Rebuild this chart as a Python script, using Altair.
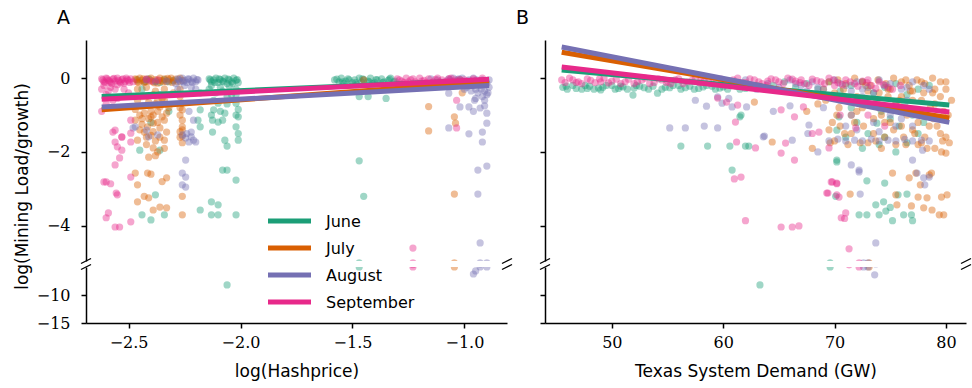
import altair as alt
import pandas as pd

months = ["June", "July", "August", "September"]
colors = ["#1b9e77", "#d95f02", "#7570b3", "#e7298a"]

# ---------------- Panel A: log(Hashprice) vs log(Mining Load/growth) ----------------
a_june = [
    (-2.46, -0.05), (-2.43, -0.1), (-2.41, -0.02), (-2.38, -0.08), (-2.36, -0.12), (-2.34, -0.04),
    (-2.32, -0.1), (-2.30, -0.06), (-2.44, -0.3), (-2.36, -0.45), (-2.32, -0.9), (-2.40, -1.2),
    (-2.14, -0.02), (-2.13, -0.1), (-2.12, -0.05), (-2.11, 0.0), (-2.10, -0.12), (-2.09, -0.04),
    (-2.08, -0.08), (-2.07, 0.0), (-2.06, -0.15), (-2.05, -0.05), (-2.04, -0.1), (-2.03, 0.0),
    (-2.02, -0.06), (-2.01, -0.12), (-2.13, -0.2), (-2.09, -0.25), (-2.05, -0.22), (-2.02, -0.3),
    (-2.135, -0.05), (-2.115, -0.12), (-2.095, -0.02), (-2.075, -0.1), (-2.055, -0.03), (-2.035, -0.14),
    (-2.015, -0.04), (-2.14, -0.3), (-2.11, -0.4), (-2.08, -0.35), (-2.04, -0.45), (-2.12, -0.6),
    (-2.06, -0.7), (-2.02, -1.0), (-2.01, -1.5), (-2.13, -1.0), (-2.09, -0.9),
    (-2.18, -0.4), (-2.18, -0.86), (-2.19, -1.14), (-2.18, -1.32), (-2.12, -0.86), (-2.10, -0.68),
    (-2.10, -1.19), (-2.125, -1.14), (-2.125, -1.46), (-2.07, -0.95), (-2.08, -1.14), (-2.07, -1.68),
    (-2.06, -1.84), (-2.01, -1.68), (-2.02, -1.32), (-2.01, -1.05), (-2.02, -0.68), (-2.02, -0.45),
    (-2.01, -0.85), (-2.06, -0.5),
    (-2.45, -1.95), (-2.36, -1.95), (-2.08, -2.49), (-2.06, -2.49), (-2.02, -2.76), (-2.44, -3.7),
    (-2.40, -3.84), (-2.38, -3.16), (-2.34, -3.7), (-2.18, -3.57), (-2.13, -3.35), (-2.10, -3.43),
    (-2.13, -3.7), (-2.10, -3.7), (-2.02, -3.7), (-2.06, -8.2),
    (-1.58, -0.05), (-1.56, -0.1), (-1.55, 0.0), (-1.53, -0.08), (-1.52, -0.02), (-1.50, -0.12),
    (-1.49, -0.05), (-1.47, 0.0), (-1.46, -0.1), (-1.45, -0.04), (-1.43, -0.08), (-1.42, 0.0),
    (-1.40, -0.12), (-1.39, -0.05), (-1.37, -0.02), (-1.36, -0.1), (-1.34, -0.06), (-1.33, 0.0),
    (-1.31, -0.08), (-1.54, -0.15), (-1.48, -0.18), (-1.41, -0.15),
    (-1.57, -0.03), (-1.545, -0.1), (-1.515, -0.05), (-1.485, -0.12), (-1.455, -0.02), (-1.425, -0.1),
    (-1.395, -0.04), (-1.365, -0.12), (-1.335, -0.03), (-1.315, -0.1),
    (-1.47, -0.5), (-1.43, -0.5), (-1.35, -0.55), (-1.47, -2.24), (-1.45, -3.2), (-1.47, -5.0),
]
a_july = [
    (-2.47, -0.02), (-2.46, -0.1), (-2.45, 0.0), (-2.44, -0.06), (-2.43, -0.12), (-2.42, -0.03),
    (-2.41, -0.08), (-2.40, 0.0), (-2.39, -0.1), (-2.38, -0.04), (-2.37, -0.14), (-2.36, 0.0),
    (-2.35, -0.07), (-2.34, -0.02), (-2.33, -0.1), (-2.32, -0.05), (-2.31, 0.0), (-2.30, -0.08),
    (-2.29, -0.03), (-2.28, -0.1), (-2.27, 0.0), (-2.26, -0.06),
    (-2.465, -0.04), (-2.455, -0.12), (-2.435, -0.02), (-2.425, -0.09), (-2.405, -0.05), (-2.385, -0.13),
    (-2.365, -0.06), (-2.345, -0.1), (-2.325, -0.01), (-2.305, -0.12), (-2.46, -0.3), (-2.42, -0.25),
    (-2.38, -0.35), (-2.34, -0.3), (-2.30, -0.4), (-2.47, -0.85), (-2.44, -0.5), (-2.41, -0.65),
    (-2.39, -0.45), (-2.37, -0.9), (-2.35, -0.55), (-2.32, -0.8), (-2.45, -1.4), (-2.42, -1.6),
    (-2.39, -1.45), (-2.36, -1.6), (-2.34, -1.9), (-2.38, -2.1), (-2.44, -1.1), (-2.40, -1.05),
    (-2.37, -0.6), (-2.27, -0.8), (-2.26, -1.4), (-2.27, -1.6),
    (-2.46, -0.6), (-2.44, -0.75), (-2.42, -0.5), (-2.40, -0.9), (-2.38, -0.7), (-2.36, -0.78),
    (-2.34, -0.6), (-2.33, -0.95), (-2.45, -1.0), (-2.43, -0.95), (-2.41, -1.1), (-2.39, -1.0),
    (-2.37, -1.2), (-2.35, -1.05), (-2.47, -1.14), (-2.46, -1.68), (-2.43, -1.46), (-2.415, -1.32),
    (-2.39, -1.22), (-2.39, -1.89), (-2.41, -2.14), (-2.37, -2.0), (-2.34, -1.14), (-2.33, -1.46),
    (-2.34, -1.68), (-2.40, -1.55), (-2.38, -1.7), (-2.42, -1.8), (-2.36, -1.35), (-2.44, -1.25),
    (-2.27, -0.3), (-2.27, -0.5), (-2.26, -0.68), (-2.26, -0.86), (-2.27, -1.0), (-2.26, -1.14),
    (-2.26, -1.32), (-2.27, -1.45), (-2.26, -1.57), (-2.26, -1.75),
    (-2.47, -2.57), (-2.46, -2.89), (-2.415, -2.57), (-2.40, -2.6), (-2.33, -2.7), (-2.35, -2.8),
    (-2.43, -3.2), (-2.41, -3.24), (-2.46, -3.35), (-2.39, -3.57), (-2.36, -3.49), (-2.33, -3.51),
    (-2.26, -3.2), (-2.26, -3.7),
    (-1.45, -0.05), (-1.16, -0.77), (-1.16, -1.43), (-1.04, -1.22), (-1.045, -1.05), (-1.045, -3.14),
    (-1.045, -5.0), (-1.01, -0.4), (-0.98, -0.2), (-1.05, -0.15), (-1.02, -0.05),
]
a_aug = [
    (-2.28, -0.02), (-2.27, -0.1), (-2.26, 0.0), (-2.25, -0.06), (-2.24, -0.12), (-2.23, -0.03),
    (-2.22, -0.08), (-2.21, 0.0), (-2.20, -0.1), (-2.19, -0.05), (-2.25, -0.2), (-2.22, -0.25),
    (-2.275, -0.05), (-2.255, -0.1), (-2.235, -0.02), (-2.215, -0.12), (-2.195, -0.04), (-2.28, -0.3),
    (-2.20, -0.3),
    (-2.42, -0.05), (-2.38, -0.1), (-2.33, -0.08), (-2.29, -0.15),
    (-2.22, -1.46), (-2.21, -1.68), (-2.245, -1.62), (-2.23, -1.73), (-2.20, -1.73), (-2.26, -1.54),
    (-2.21, -1.14), (-2.24, -1.5), (-2.22, -1.59), (-2.245, -2.22), (-2.26, -2.57), (-2.245, -2.68),
    (-2.26, -2.89), (-2.245, -2.95), (-2.48, -1.35), (-2.42, -1.41), (-2.37, -1.54), (-2.47, -1.32),
    (-2.41, -1.59), (-2.23, -0.9),
    (-1.07, -0.02), (-1.06, -0.1), (-1.05, 0.0), (-1.04, -0.15), (-1.03, -0.05), (-1.02, -0.2),
    (-1.01, 0.0), (-1.00, -0.1), (-0.99, -0.25), (-0.98, -0.05), (-0.97, -0.15), (-0.96, 0.0),
    (-0.95, -0.3), (-0.94, -0.1), (-0.93, -0.2), (-0.92, -0.05), (-0.91, -0.35), (-0.90, -0.15),
    (-0.89, -0.25), (-0.90, -0.45), (-0.92, -0.5), (-0.95, -0.55), (-0.89, -0.05), (-0.91, -0.6),
    (-1.09, -0.1), (-1.12, -0.05), (-1.15, -0.02),
    (-1.065, -0.05), (-1.045, -0.12), (-1.025, -0.02), (-1.005, -0.15), (-0.985, -0.08), (-0.965, -0.2),
    (-0.945, -0.05), (-0.925, -0.3), (-0.905, -0.08), (-0.895, -0.4), (-0.94, -0.4), (-0.97, -0.35),
    (-1.00, -0.3), (-0.91, -0.75), (-0.96, -0.9),
    (-1.07, -0.41), (-1.02, -0.78), (-0.98, -0.78), (-0.955, -0.6), (-0.93, -0.81), (-0.90, -0.95),
    (-0.90, -1.22), (-1.07, -1.35), (-0.98, -1.51), (-0.92, -1.46), (-0.92, -1.73), (-0.94, -2.49),
    (-0.90, -2.38), (-0.94, -3.14), (-0.93, -4.46), (-0.96, -6.25), (-0.93, -5.0), (-0.90, -5.0),
    (-0.95, -5.7),
]
a_sep = [
    (-2.62, -0.02), (-2.61, -0.1), (-2.60, 0.0), (-2.59, -0.06), (-2.58, -0.12), (-2.57, -0.03),
    (-2.56, -0.08), (-2.55, 0.0), (-2.54, -0.1), (-2.53, -0.04), (-2.52, -0.14), (-2.51, 0.0),
    (-2.50, -0.07), (-2.49, -0.02), (-2.48, -0.1), (-2.61, -0.2), (-2.58, -0.25), (-2.55, -0.18),
    (-2.52, -0.3), (-2.42, -0.03), (-2.40, -0.08), (-2.37, -0.05),
    (-2.615, -0.05), (-2.605, -0.12), (-2.595, -0.02), (-2.585, -0.08), (-2.575, -0.15), (-2.565, -0.01),
    (-2.545, -0.06), (-2.535, -0.13), (-2.525, -0.02), (-2.515, -0.09), (-2.505, -0.04), (-2.495, -0.12),
    (-2.62, -0.3), (-2.59, -0.35), (-2.56, -0.3), (-2.60, -0.45), (-2.50, -0.4),
    (-2.57, -0.6), (-2.55, -0.55), (-2.62, -0.9), (-2.60, -0.7), (-2.49, -1.14), (-2.57, -1.46),
    (-2.56, -1.73), (-2.55, -1.86), (-2.53, -1.6), (-2.53, -1.95), (-2.54, -2.16), (-2.56, -2.35),
    (-2.49, -1.49), (-2.49, -1.73), (-2.49, -2.68), (-2.60, -2.81), (-2.58, -2.86), (-2.555, -3.11),
    (-2.55, -3.16), (-2.60, -3.78), (-2.59, -3.65), (-2.56, -4.03), (-2.54, -4.03), (-2.49, -3.89),
    (-2.56, -1.41), (-2.53, -1.59), (-2.61, -2.81),
    (-1.30, -0.02), (-1.28, -0.08), (-1.26, 0.0), (-1.24, -0.05), (-1.22, -0.1), (-1.20, 0.0),
    (-1.18, -0.06), (-1.16, -0.02), (-1.14, -0.1), (-1.12, 0.0), (-1.10, -0.05), (-1.08, -0.08),
    (-1.06, 0.0), (-1.04, -0.05), (-1.03, -0.12), (-1.27, -0.12), (-1.21, -0.14), (-1.15, -0.13),
    (-1.09, -0.15), (-1.00, -0.05), (-0.96, -0.02), (-0.92, 0.0),
    (-1.29, -0.05), (-1.25, -0.1), (-1.23, -0.02), (-1.19, -0.08), (-1.17, -0.12), (-1.13, -0.04),
    (-1.11, -0.1), (-1.07, -0.02), (-1.05, -0.1), (-1.02, -0.04),
    (-1.035, -0.6), (-1.035, -1.35), (-1.23, -4.6), (-1.23, -5.0),
]
a_line_x = [-2.62, -0.89]
a_line_y0 = [-0.50, -0.86, -0.78, -0.57]   # June, July, August, September
a_line_y1 = [-0.05, -0.10, -0.20, -0.03]

# ---------------- Panel B: Texas System Demand (GW) ----------------
b_june = [
    (45.6, -0.25), (46.5, -0.2), (47.3, -0.3), (48.0, -0.22), (48.8, -0.27), (49.5, -0.2), (50.3, -0.3),
    (51.0, -0.24), (51.9, -0.46), (52.5, -0.22), (53.3, -0.3), (54.1, -0.41), (54.8, -0.25), (55.5, -0.2),
    (56.2, -0.3), (57.0, -0.22), (57.8, -0.28), (58.5, -0.2), (59.3, -0.3), (60.0, -0.24), (60.8, -0.2),
    (61.5, -0.3), (62.3, -0.25), (63.0, -0.2), (63.8, -0.3), (46.0, -0.3), (47.8, -0.28), (49.0, -0.32),
    (50.8, -0.22), (52.0, -0.27),
    (45.9, -0.22), (46.8, -0.28), (47.6, -0.2), (48.4, -0.3), (49.2, -0.25), (50.0, -0.2), (50.6, -0.28),
    (51.4, -0.3), (52.2, -0.2), (52.9, -0.26), (53.7, -0.22), (54.5, -0.3), (55.2, -0.26), (56.0, -0.2),
    (56.6, -0.26), (57.4, -0.3), (58.2, -0.24), (59.0, -0.22), (59.7, -0.27), (60.4, -0.3), (61.2, -0.22),
    (62.0, -0.28), (62.7, -0.22), (63.4, -0.26), (64.2, -0.3),
    (64.5, -0.2), (65.5, -0.1), (66.5, -0.25), (67.5, -0.15), (68.5, -0.3), (69.5, -0.1), (70.5, -0.35),
    (71.5, -0.2), (72.5, -0.1), (73.5, -0.4), (74.5, -0.25), (75.5, -0.15), (76.5, -0.45), (77.5, -0.3),
    (78.5, -0.2),
    (70.4, -1.05), (70.2, -1.41), (71.5, -0.8), (72.0, -1.2), (72.8, -0.6), (73.0, -1.5), (73.8, -1.22),
    (74.2, -0.9), (74.5, -1.6), (75.0, -1.1), (75.5, -2.0), (75.8, -1.3), (76.3, -0.7), (76.5, -1.75),
    (77.0, -1.0), (77.5, -1.5), (78.0, -1.2), (74.0, -1.8), (72.5, -1.9), (71.0, -1.6),
    (61.5, -1.05), (61.6, -1.0), (56.2, -1.84), (58.6, -1.84), (60.6, -1.84), (62.0, -1.84), (62.3, -1.84),
    (60.8, -2.49), (70.2, -2.22), (70.2, -2.27), (72.9, -2.78), (74.5, -2.84), (75.7, -3.16), (76.5, -3.14),
    (73.7, -3.43), (74.4, -3.35), (72.2, -3.7), (72.9, -3.7), (74.0, -3.7), (74.6, -3.6), (75.0, -3.5),
    (75.2, -3.86), (76.2, -3.7), (76.9, -3.7), (77.0, -3.86), (70.1, -3.2), (69.6, -5.0), (63.3, -8.2),
]
b_july = [
    (69.5, -0.1), (70.3, -0.05), (71.0, -0.15), (71.8, 0.0), (72.5, -0.1), (73.2, -0.2), (73.9, -0.05),
    (74.6, -0.15), (75.3, 0.0), (76.0, -0.1), (76.7, -0.2), (77.4, -0.05), (78.1, -0.15), (78.8, 0.0),
    (79.5, -0.1), (75.0, -0.3), (77.0, -0.35), (79.0, -0.3), (76.4, -0.05), (77.8, -0.1),
    (69.2, -0.6), (69.8, -1.2), (70.4, -0.8), (70.9, -1.5), (71.5, -1.0), (72.0, -0.5), (72.6, -1.3),
    (73.1, -0.7), (73.7, -1.7), (74.2, -1.0), (74.8, -0.5), (75.3, -1.4), (75.9, -0.9), (76.4, -1.8),
    (77.0, -0.6), (77.5, -1.2), (78.1, -1.6), (78.6, -0.8), (79.2, -1.3), (79.7, -1.7), (80.2, -1.0),
    (80.0, -1.6), (79.5, -0.5), (78.3, -1.9), (77.2, -1.5), (76.0, -1.3), (74.5, -1.6), (73.5, -1.1),
    (72.3, -1.75), (71.2, -1.8), (70.0, -1.7), (76.8, -0.9), (75.5, -0.7), (74.0, -0.4), (78.9, -1.1),
    (80.3, -1.75), (68.5, -0.7), (67.5, -0.9), (69.6, -1.75), (73.0, -1.75), (77.8, -1.75),
    (69.0, -0.3), (70.0, -0.4), (71.0, -0.6), (72.0, -0.9), (73.0, -0.35), (74.0, -0.8), (75.0, -1.2),
    (76.0, -0.5), (77.0, -1.4), (78.0, -0.4), (79.0, -0.7), (80.0, -0.3), (69.5, -1.4), (70.5, -1.3),
    (71.5, -1.5), (72.5, -0.8), (73.5, -1.5), (74.5, -1.2), (75.5, -1.8), (76.5, -1.0), (77.5, -1.8),
    (78.5, -1.3), (79.5, -1.5), (80.5, -0.6), (70.8, -0.3), (72.8, -0.2), (74.8, -0.3), (76.8, -0.35),
    (78.8, -0.4), (80.0, -0.1), (73.8, -0.6), (75.8, -0.6), (77.8, -0.6), (79.8, -0.9), (71.8, -1.2),
    (76.2, -1.6), (78.2, -1.0), (74.2, -1.9), (70.2, -1.0), (79.0, -1.9),
    (62.8, -0.65), (64.4, -1.73), (75.2, -2.57), (77.3, -2.57), (78.7, -2.57), (80.0, -2.03),
    (79.6, -2.0), (76.7, -2.7), (77.7, -2.89), (78.5, -2.62), (79.6, -3.22), (80.1, -3.16), (77.5, -3.22),
    (78.3, -3.24), (78.0, -3.51), (78.75, -3.57), (79.4, -3.7), (79.8, -3.7), (76.9, -3.46), (75.6, -3.43),
    (75.5, -3.16), (71.4, -3.14), (73.1, -5.0), (68.0, -1.9),
]
b_aug = [
    (60.0, -0.1), (61.0, -0.2), (62.0, -0.05), (63.0, -0.3), (64.0, -0.15), (65.0, -0.25), (66.0, -0.05),
    (67.0, -0.2), (68.0, -0.1), (69.0, -0.3), (70.0, -0.05), (71.0, -0.2), (72.0, -0.1), (73.0, -0.25),
    (74.0, -0.05), (75.0, -0.15), (76.0, -0.3), (77.0, -0.1), (78.0, -0.2), (71.5, -0.35), (73.5, -0.4),
    (67.5, -0.35),
    (66.5, -0.15), (68.5, -0.25), (70.5, -0.15), (72.5, -0.3), (74.5, -0.2), (76.5, -0.25), (78.5, -0.3),
    (69.0, -0.8), (71.0, -1.3), (73.0, -0.7), (75.0, -1.0), (77.0, -1.3), (78.0, -0.9),
    (58.5, -0.76), (59.9, -0.68), (60.8, -0.78), (62.1, -0.78), (59.5, -0.51), (60.5, -0.55), (57.5, -0.6),
    (55.2, -1.35), (56.6, -1.35), (58.3, -1.3), (59.5, -1.35), (63.6, -1.59), (63.7, -1.57), (67.7, -1.27),
    (66.2, -1.68), (67.6, -1.5), (64.5, -0.9), (66.0, -0.75),
    (69.5, -1.7), (70.3, -1.65), (71.0, -1.7), (71.8, -1.68), (72.5, -1.7), (73.3, -1.65), (74.0, -1.7),
    (74.8, -1.68), (75.5, -1.7), (76.3, -1.66), (77.0, -1.7), (77.8, -1.68), (78.5, -1.7),
    (70.5, -0.6), (71.5, -1.0), (72.5, -0.5), (73.5, -1.2), (74.5, -0.8), (75.5, -1.3), (76.5, -0.6),
    (77.5, -1.0), (72.0, -1.4), (74.0, -1.45), (76.0, -1.1),
    (71.5, -2.35), (72.2, -2.49), (77.0, -2.22), (77.4, -2.57), (77.9, -1.95), (78.0, -2.7), (78.1, -2.89),
    (78.5, -2.68), (72.3, -3.14), (72.2, -2.54), (73.7, -4.46), (73.6, -6.4), (72.6, -5.0), (73.0, -5.0),
    (68.5, -2.0),
]
b_sep = [
    (45.5, -0.05), (46.2, 0.0), (47.0, -0.1), (47.8, -0.02), (48.5, -0.12), (49.3, 0.0), (50.0, -0.08),
    (50.8, -0.15), (51.5, -0.03), (52.3, -0.1), (53.0, 0.0), (53.8, -0.12), (54.5, -0.05), (55.3, -0.15),
    (56.0, -0.02), (56.8, -0.1), (57.5, 0.0), (58.3, -0.08), (59.0, -0.15), (59.8, -0.03), (60.5, -0.1),
    (61.3, 0.0), (62.0, -0.12), (62.8, -0.05), (63.5, -0.15), (64.3, -0.02), (65.0, -0.1), (65.8, 0.0),
    (66.5, -0.08), (67.3, -0.15), (68.0, -0.03), (68.8, -0.1), (69.5, 0.0), (70.3, -0.12), (71.0, -0.05),
    (71.8, -0.15), (72.5, -0.08), (73.3, -0.2), (74.0, -0.1), (74.8, -0.25), (46.8, -0.12), (49.0, -0.1),
    (52.0, -0.15), (55.0, -0.08), (58.0, -0.05), (61.0, -0.15), (64.0, -0.08), (67.0, -0.05), (70.0, -0.2),
    (73.0, -0.05),
    (45.8, -0.12), (46.5, -0.05), (47.3, -0.15), (48.1, -0.06), (48.9, -0.02), (49.7, -0.13), (50.4, -0.03),
    (51.2, -0.1), (52.7, -0.05), (53.4, -0.15), (54.2, -0.02), (54.9, -0.12), (55.7, -0.05), (56.4, -0.15),
    (57.2, -0.06), (57.9, -0.13), (58.7, -0.02), (59.4, -0.1), (60.1, -0.18), (60.9, -0.05), (61.7, -0.12),
    (62.4, -0.02), (63.2, -0.1), (63.9, -0.2), (64.7, -0.05), (65.4, -0.15), (66.2, -0.03), (66.9, -0.12),
    (67.7, -0.2), (68.4, -0.07), (69.1, -0.15), (69.9, -0.05), (70.7, -0.18), (71.4, -0.1), (72.1, -0.22),
    (72.9, -0.12), (73.7, -0.28), (74.4, -0.18), (75.2, -0.3), (75.9, -0.2),
    (59.5, -0.54), (60.3, -0.65), (61.3, -0.73), (61.1, -1.19), (61.2, -1.73), (62.9, -1.89), (61.0, -2.73),
    (61.6, -2.68), (62.0, -3.86), (65.2, -2.03), (65.6, -1.76), (66.4, -2.22), (66.4, -1.05), (67.2, -0.78),
    (65.2, -0.86), (68.0, -1.5), (68.6, -1.46), (69.5, -1.89), (69.7, -2.81), (70.2, -2.84), (69.4, -3.11),
    (70.4, -3.22), (71.9, -1.35), (69.8, -2.81), (70.2, -2.86), (69.3, -3.11), (70.2, -3.16), (71.0, -3.65),
    (70.6, -3.78), (70.9, -3.8), (65.2, -4.03), (66.2, -4.03), (66.8, -4.0), (71.3, -4.62), (72.2, -5.0),
    (72.0, -0.6), (73.0, -1.0), (74.5, -1.3), (75.5, -0.7), (70.5, -1.0),
]
b_line_x = [45.5, 80.3]
b_line_y0 = [0.22, 0.70, 0.84, 0.30]
b_line_y1 = [-0.73, -1.08, -1.20, -0.92]

# ---------------- helpers ----------------
SERIF = "DejaVu Serif"
SANS = "DejaVu Sans"
W, HU, HL = 421, 221, 56
Y_UP = [-4.95, 1.03]
Y_LO = [-15, -5]
MINUS = "replace(datum.label, '-', '\u2212')"


def points_frame(groups):
    rows = []
    for m, pts in zip(months, groups):
        for x, y in pts:
            rows.append({"x": x, "y": y, "month": m})
    return pd.DataFrame(rows)


def lines_frame(xs, y0, y1):
    rows = []
    for i, m in enumerate(months):
        rows.append({"x": xs[0], "y": y0[i], "month": m, "o": i})
        rows.append({"x": xs[1], "y": y1[i], "month": m, "o": i})
    return pd.DataFrame(rows)


color_scale = alt.Scale(domain=months, range=colors)
dummy = pd.DataFrame({"d": [0]})


def breaks(h, top):
    marks = []
    for xx in (0, W):
        if top:
            y1, y2 = 2.5, -2.5
        else:
            y1, y2 = h + 2.5, h - 2.5
        marks.append(
            alt.Chart(dummy).mark_rule(color="black", strokeWidth=1.3).encode(
                x=alt.value(xx - 5), x2=alt.value(xx + 5), y=alt.value(y1), y2=alt.value(y2)
            )
        )
    return marks


def legend_layers():
    out = []
    for i, (m, c) in enumerate(zip(months, colors)):
        yy = 181 + 27 * i
        out.append(alt.Chart(dummy).mark_rule(strokeWidth=5, color=c).encode(
            x=alt.value(182), x2=alt.value(225), y=alt.value(yy), y2=alt.value(yy)))
        out.append(alt.Chart(dummy).mark_text(align="left", baseline="middle", font=SANS,
                                              fontSize=16, color="black", text=m).encode(
            x=alt.value(240), y=alt.value(yy + 1)))
    return out


def panel(pdf, ldf, xdom, xticks, xfmt, xtitle, first, letter):
    xs = alt.Scale(domain=xdom, nice=False, zero=False)
    yax_up = alt.Axis(
        values=[0, -2, -4], title="log(Mining Load/growth)" if first else None,
        labels=first, labelExpr=MINUS, titleY=146, titleFont=SANS, titleFontSize=17,
        titleFontWeight="normal", titleColor="black", titlePadding=15,
    )
    yax_lo = alt.Axis(values=[-10, -15], title=None, labels=first, labelExpr=MINUS)
    pts_up = alt.Chart(pdf).mark_circle(size=52, opacity=0.42, clip=True).encode(
        x=alt.X("x:Q", scale=xs, axis=None),
        y=alt.Y("y:Q", scale=alt.Scale(domain=Y_UP, nice=False, zero=False), axis=yax_up),
        color=alt.Color("month:N", scale=color_scale, legend=None),
    )
    lns = alt.Chart(ldf).mark_line(strokeWidth=5, clip=True, opacity=1).encode(
        x=alt.X("x:Q", scale=xs, axis=None),
        y=alt.Y("y:Q", scale=alt.Scale(domain=Y_UP, nice=False, zero=False)),
        color=alt.Color("month:N", scale=color_scale, legend=None),
        order=alt.Order("o:Q"),
        detail="month:N",
    )
    layers = [pts_up, lns] + breaks(HU, False)
    if first:
        layers += legend_layers()
    upper = alt.layer(*layers).properties(
        width=W, height=HU,
        title=alt.TitleParams(letter, anchor="start", frame="group", font=SANS, fontSize=19,
                              fontWeight="normal", color="black", dx=-29, offset=12),
    )
    pts_lo = alt.Chart(pdf).mark_circle(size=52, opacity=0.42, clip=True).encode(
        x=alt.X("x:Q", scale=xs, axis=alt.Axis(values=xticks, format=xfmt, title=xtitle,
                                             labelExpr=MINUS,
                                             titleFont=SANS, titleFontSize=17,
                                             titleFontWeight="normal", titleColor="black",
                                             titlePadding=13)),
        y=alt.Y("y:Q", scale=alt.Scale(domain=Y_LO, nice=False, zero=False), axis=yax_lo),
        color=alt.Color("month:N", scale=color_scale, legend=None),
    )
    lower = alt.layer(pts_lo, *breaks(HL, True)).properties(width=W, height=HL)
    return alt.vconcat(upper, lower, spacing=6, bounds="flush")


panel_a = panel(points_frame([a_june, a_july, a_aug, a_sep]),
                lines_frame(a_line_x, a_line_y0, a_line_y1),
                [-2.69, -0.81], [-2.5, -2.0, -1.5, -1.0], ".1f", "log(Hashprice)", True, "A")
panel_b = panel(points_frame([b_june, b_july, b_aug, b_sep]),
                lines_frame(b_line_x, b_line_y0, b_line_y1),
                [44.0, 81.8], [50, 60, 70, 80], "d", "Texas System Demand (GW)", False, "B")

chart = alt.hconcat(panel_a, panel_b, spacing=3).properties(
    padding={"left": 13, "top": 9, "right": 0, "bottom": 3}
).configure_view(stroke=None).configure_axis(
    grid=False, domainColor="black", domainWidth=1.5, tickColor="black", tickWidth=1.5,
    tickSize=5, labelFont=SERIF, labelFontSize=16, labelColor="black", labelPadding=11,
).configure_axisX(labelPadding=6)

chart.save("out.html", embed_options={"renderer": "svg", "actions": False})
